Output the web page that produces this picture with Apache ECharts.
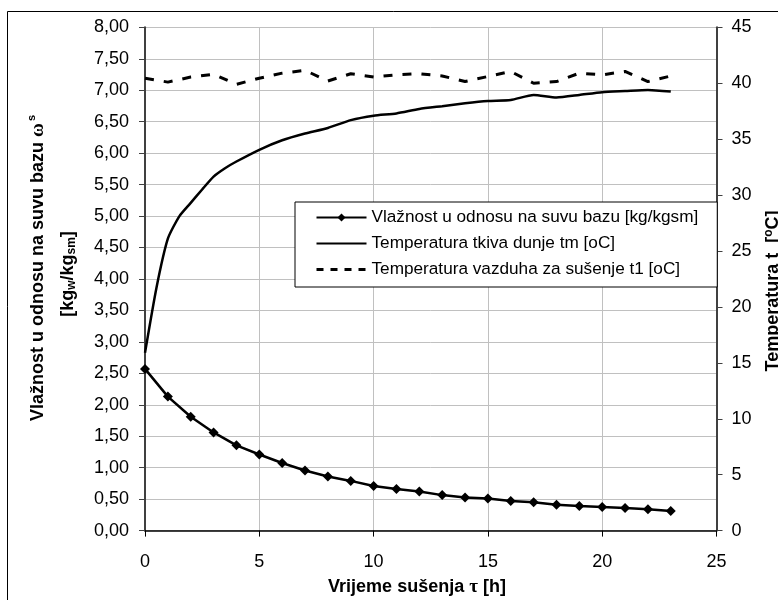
<!DOCTYPE html>
<html>
<head>
<meta charset="utf-8">
<script src="https://cdn.jsdelivr.net/npm/echarts@6/dist/echarts.min.js"></script>
<style>
html, body { margin: 0; padding: 0; background: #fff; }
#chart { width: 778px; height: 600px; }
</style>
</head>
<body>
<div id="chart"></div>
<script>
// vrijeme sušenja [h]
const hours = [0, 1, 2, 3, 4, 5, 6, 7, 8, 9, 10, 11, 12, 13, 14, 15, 16, 17, 18, 19, 20, 21, 22, 23];
// vlažnost u odnosu na suvu bazu [kg/kgsm]
const moisture = [2.57, 2.13, 1.81, 1.56, 1.355, 1.21, 1.075, 0.955, 0.86, 0.79, 0.71, 0.66,
    0.62, 0.564, 0.527, 0.51, 0.47, 0.45, 0.41, 0.39, 0.375, 0.36, 0.34, 0.31];
// temperatura vazduha za sušenje t1 [oC]
const airTemp = [40.45, 40.1, 40.55, 40.8, 39.9, 40.45, 40.9, 41.15, 40.2, 40.85, 40.55, 40.75,
    40.85, 40.65, 40.15, 40.6, 41.05, 40.0, 40.15, 40.9, 40.75, 41.05, 40.15, 40.65];
// temperatura tkiva dunje tm [oC]
const tissueTime = [0, 0.5, 1, 1.5, 2, 2.5, 3, 3.5, 4, 5, 6, 7, 8, 9, 10, 11, 12, 13, 14, 15, 16, 17, 18, 19, 20, 21, 22, 23];
const tissueTemp = [15.9, 21.7, 26.1, 28.1, 29.3, 30.5, 31.65, 32.4, 33.0, 34.05, 34.9, 35.5, 36.0, 36.7,
    37.1, 37.3, 37.7, 37.95, 38.2, 38.4, 38.5, 38.95, 38.72, 38.95, 39.2, 39.3, 39.4, 39.25];

const names = [
    'Vlažnost u odnosu na suvu bazu [kg/kgsm]',
    'Temperatura tkiva dunje tm [oC]',
    'Temperatura vazduha za sušenje t1 [oC]'
];

const FONT = 'Liberation Sans, Arial, sans-serif';
const pairs = (xs, ys) => xs.map((x, i) => [x, ys[i]]);

const chart = echarts.init(document.getElementById('chart'));

const option = {
    backgroundColor: '#fff',
    animation: false,
    textStyle: { fontFamily: FONT, color: '#000' },
    grid: { left: 145, right: 61.5, top: 27.3, bottom: 69.4 },
    legend: {
        orient: 'vertical',
        left: 295,
        top: 202,
        padding: [7, 19, 9, 20],
        itemGap: 9,
        itemWidth: 50,
        itemHeight: 10,
        backgroundColor: '#fff',
        borderColor: '#000',
        borderWidth: 1,
        borderRadius: 0,
        textStyle: { fontSize: 17.2, fontFamily: FONT, color: '#000' },
        data: [
            { name: names[0] },
            { name: names[1], itemStyle: { color: 'rgba(0,0,0,0)', borderWidth: 0 } },
            { name: names[2], itemStyle: { color: 'rgba(0,0,0,0)', borderWidth: 0 },
              lineStyle: { type: [7, 7], width: 3 } }
        ]
    },
    xAxis: {
        type: 'value',
        min: 0,
        max: 25,
        interval: 5,
        axisLine: { show: true, onZero: false, lineStyle: { color: '#000', width: 1.5 } },
        axisTick: { show: true, length: 6, lineStyle: { color: '#000' } },
        axisLabel: { fontSize: 18, color: '#000', margin: 22 },
        splitLine: { show: true, lineStyle: { color: '#c0c0c0', width: 1 } }
    },
    yAxis: [
        {
            type: 'value',
            min: 0,
            max: 8,
            interval: 0.5,
            position: 'left',
            axisLine: { show: true, lineStyle: { color: '#404040', width: 2 } },
            axisTick: { show: true, length: 6, lineStyle: { color: '#404040' } },
            axisLabel: { fontSize: 18, color: '#000', margin: 16,
                formatter: v => v.toFixed(2).replace('.', ',') },
            splitLine: { show: true, lineStyle: { color: '#c0c0c0', width: 1 } }
        },
        {
            type: 'value',
            min: 0,
            max: 45,
            interval: 5,
            position: 'right',
            axisLine: { show: true, lineStyle: { color: '#404040', width: 2 } },
            axisTick: { show: true, length: 6, lineStyle: { color: '#404040' } },
            axisLabel: { fontSize: 18, color: '#000', margin: 15 },
            splitLine: { show: false }
        }
    ],
    series: [
        {
            name: names[0],
            type: 'line',
            yAxisIndex: 0,
            data: pairs(hours, moisture),
            symbol: 'diamond',
            symbolSize: 10,
            itemStyle: { color: '#000' },
            lineStyle: { color: '#000', width: 2.5 },
            z: 4
        },
        {
            name: names[1],
            type: 'line',
            yAxisIndex: 1,
            data: pairs(tissueTime, tissueTemp),
            symbol: 'none',
            smooth: 0.2,
            itemStyle: { color: '#000' },
            lineStyle: { color: '#000', width: 2.5 },
            z: 3
        },
        {
            name: names[2],
            type: 'line',
            yAxisIndex: 1,
            data: pairs(hours, airTemp),
            symbol: 'none',
            itemStyle: { color: '#000' },
            lineStyle: { color: '#000', width: 3, type: [9, 10] },
            z: 3
        }
    ],
    graphic: [
        {
            type: 'rect', silent: true, z: -10,
            shape: { x: 7.5, y: 11.5, width: 800, height: 700 },
            style: { fill: 'none', stroke: '#000', lineWidth: 1 }
        },
        {
            type: 'text', silent: true, x: 38.5, y: 268, rotation: Math.PI / 2,
            style: {
                text: '{b|Vlažnost u odnosu na suvu bazu }{g|ω}{sup|s}',
                align: 'center', verticalAlign: 'middle',
                rich: {
                    b: { fontFamily: FONT, fontWeight: 'bold', fontSize: 18 },
                    g: { fontFamily: 'Liberation Serif, serif', fontWeight: 'bold', fontSize: 19 },
                    sup: { fontFamily: FONT, fontWeight: 'bold', fontSize: 11, padding: [0, 0, 14, 2] }
                }
            }
        },
        {
            type: 'text', silent: true, x: 68, y: 274, rotation: Math.PI / 2,
            style: {
                text: '{b|[kg}{sub|w}{b|/kg}{sub|sm}{b|]}',
                align: 'center', verticalAlign: 'middle',
                rich: {
                    b: { fontFamily: FONT, fontWeight: 'bold', fontSize: 18 },
                    sub: { fontFamily: FONT, fontWeight: 'bold', fontSize: 12, padding: [7, 0, 0, 0] }
                }
            }
        },
        {
            type: 'text', silent: true, x: 773, y: 291, rotation: Math.PI / 2,
            style: {
                text: '{b|Temperatura t  [}{sup|o}{b|C]}',
                align: 'center', verticalAlign: 'middle',
                rich: {
                    b: { fontFamily: FONT, fontWeight: 'bold', fontSize: 18 },
                    sup: { fontFamily: FONT, fontWeight: 'bold', fontSize: 12, padding: [0, 0, 8, 0] }
                }
            }
        },
        {
            type: 'text', silent: true, x: 417, y: 587,
            style: {
                text: '{b|Vrijeme sušenja }{g|τ}{b| [h]}',
                align: 'center', verticalAlign: 'middle',
                rich: {
                    b: { fontFamily: FONT, fontWeight: 'bold', fontSize: 18 },
                    g: { fontFamily: 'Liberation Serif, serif', fontWeight: 'bold', fontSize: 19 }
                }
            }
        }
    ]
};

chart.setOption(option);
window.addEventListener('resize', () => chart.resize());
</script>
</body>
</html>
